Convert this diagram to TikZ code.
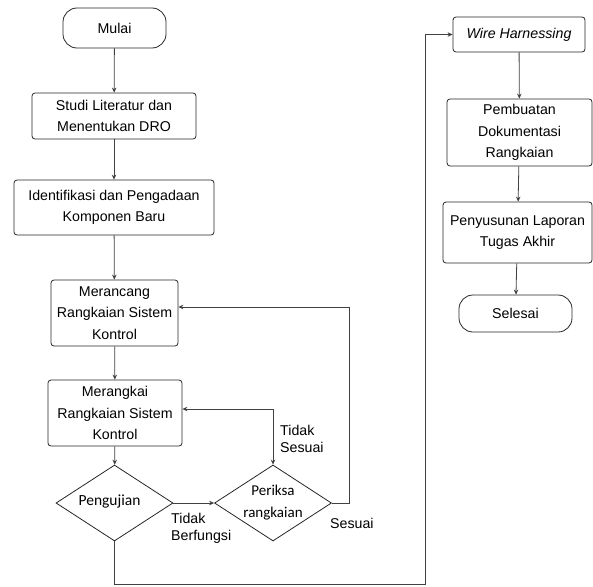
\documentclass[tikz,border=0pt]{standalone}
\usepackage{fontspec}
\setmainfont{Liberation Sans}
\newfontfamily\diafont{Carlito}
\usetikzlibrary{arrows.meta,shapes.geometric}

\tikzset{
  proses/.style={draw=black!85, line width=0.8pt, rounded corners=3pt, align=center, inner sep=0pt,
    font=\fontsize{14.2}{21.5}\selectfont},
  terminal/.style={proses, rounded corners=14pt},
  cabang/.style={draw=black!85, line width=0.8pt, diamond, inner sep=0pt, minimum width=117pt, minimum height=76pt},
  teks/.style={align=left, inner sep=0pt, font=\fontsize{14.2}{17}\selectfont},
  panah/.style={draw=black!75, line width=0.8pt, -{Stealth[length=5pt,width=4.5pt]}}
}

\begin{document}
\begin{tikzpicture}[x=1pt,y=-1pt]
\useasboundingbox (0,0) rectangle (593,586);

% kolom kiri
\node [terminal, minimum width=103pt, minimum height=40pt] (mulai) at (114.5,28) {Mulai};
\node [proses, minimum width=164pt, minimum height=46pt] (studi) at (114,116) {Studi Literatur dan\\Menentukan DRO};
\node [proses, minimum width=200pt, minimum height=55pt] (ident) at (114,207.5) {Identifikasi dan Pengadaan\\Komponen Baru};
\node [proses, minimum width=127pt, minimum height=66pt] (rancang) at (114.5,313) {Merancang\\Rangkaian Sistem\\Kontrol};
\node [proses, minimum width=134pt, minimum height=66pt] (rangkai) at (115,413) {Merangkai\\Rangkaian Sistem\\Kontrol};
\node [cabang, label={[xshift=-5pt, yshift=2pt, font=\diafont\fontsize{15.5}{20}\selectfont]center:Pengujian}] (uji) at (114.5,503) {};
\node [cabang, label={[align=center, font=\diafont\fontsize{15}{22}\selectfont]center:Periksa\\rangkaian}] (periksa) at (273,503) {};

% kolom kanan
\node [proses, minimum width=132pt, minimum height=35pt] (wire) at (519,34.5) {\itshape Wire Harnessing};
\node [proses, minimum width=145pt, minimum height=67pt] (buat) at (519.5,132.5) {Pembuatan\\Dokumentasi\\Rangkaian};
\node [proses, minimum width=149pt, minimum height=61pt] (susun) at (517.5,232.5) {Penyusunan Laporan\\Tugas Akhir};
\node [terminal, minimum width=113pt, minimum height=37pt] (selesai) at (515.5,313.5) {Selesai};

% keterangan
\node [teks, anchor=north west] (tb) at (171,513) {Tidak\\Berfungsi};
\node [teks, anchor=north west] (ts) at (280,425) {Tidak\\Sesuai};
\node [teks, anchor=north west] (ss) at (330,518) {Sesuai};

\coordinate (bawah) at (425,584);

\draw [panah] (mulai) -- (studi);
\draw [panah] (studi) -- (ident);
\draw [panah] (ident) -- (rancang);
\draw [panah] (rancang) -- (rangkai);
\draw [panah] (rangkai) -- (uji);
\draw [panah] (uji.east) -- (periksa.west);
\draw [panah] (periksa.east) -- ++(17,0) |- ([yshift=6pt]rancang.east);
\draw [panah, {Stealth[length=5pt,width=4.5pt]}-{Stealth[length=5pt,width=4.5pt]}] ([yshift=4pt]rangkai.east) -| (periksa.north);
\draw [panah] (uji.south) |- (bawah) |- (wire.west);
\draw [panah] (wire) -- (buat);
\draw [panah] (buat) -- (susun);
\draw [panah] (susun) -- (selesai);
\end{tikzpicture}
\end{document}
